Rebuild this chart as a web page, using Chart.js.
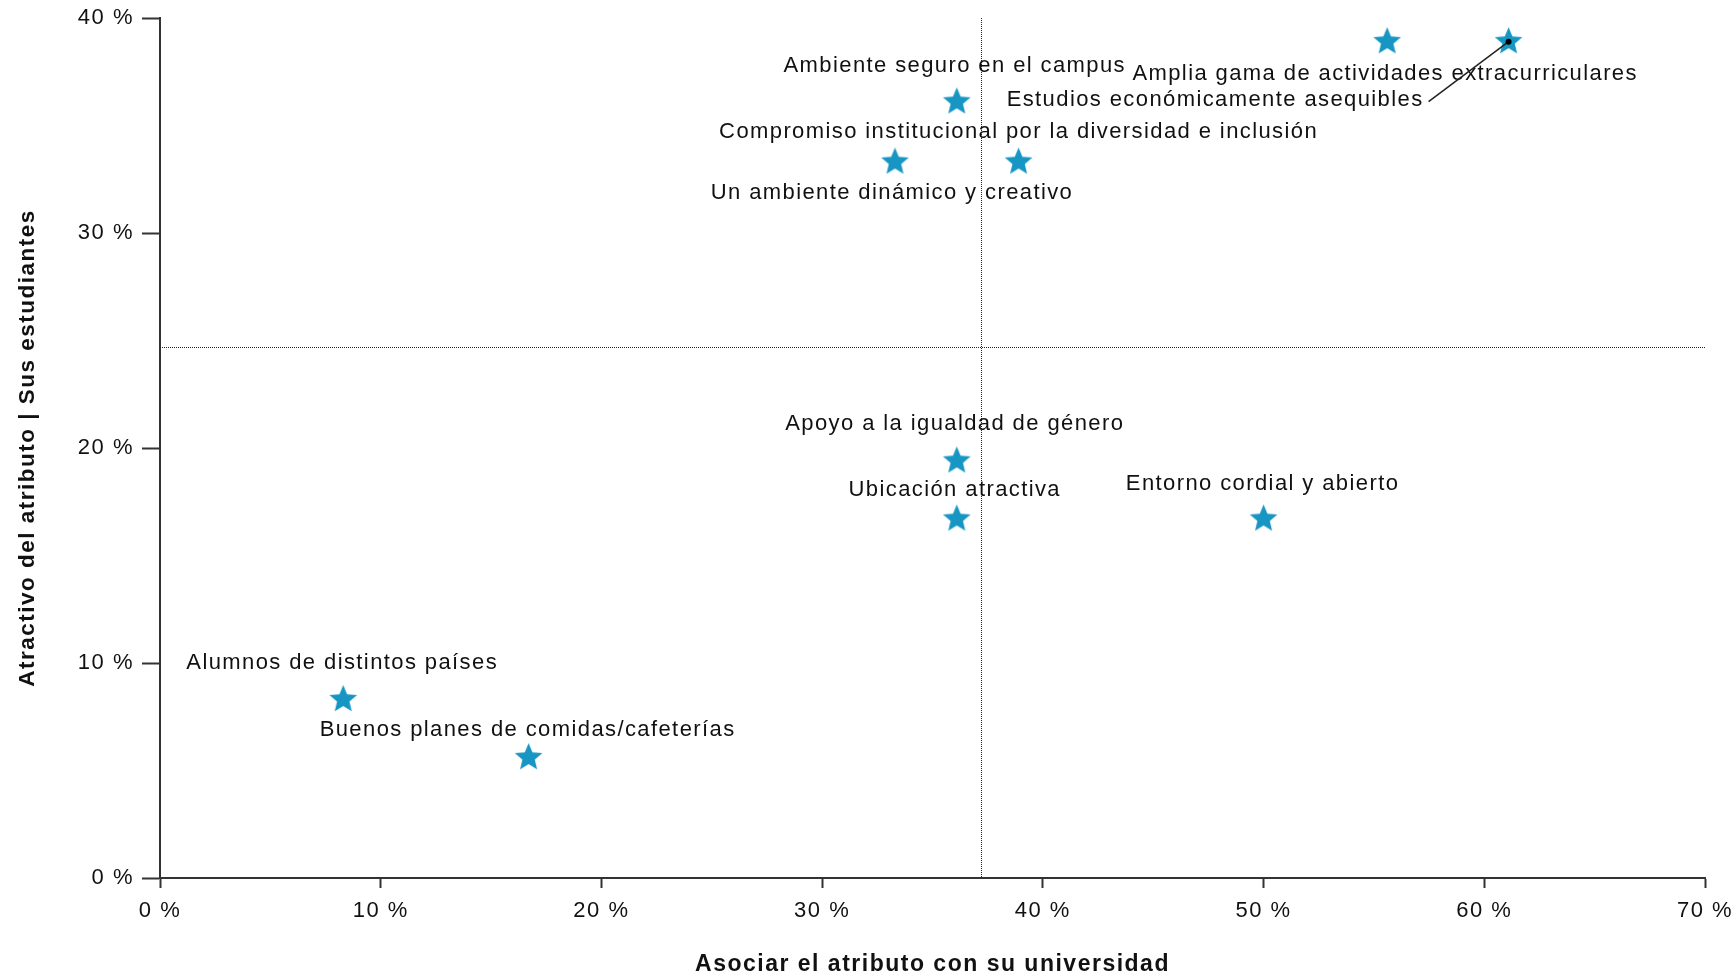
<!DOCTYPE html>
<html>
<head>
<meta charset="utf-8">
<script src="https://cdn.jsdelivr.net/npm/chart.js@4.4.1/dist/chart.umd.min.js"></script>
<style>
  html, body { margin: 0; padding: 0; background: #ffffff; }
  #wrap { width: 1736px; height: 977px; }
</style>
</head>
<body>
<div id="wrap"><canvas id="quadrantChart" width="1736" height="977"></canvas></div>
<script>
const attributes = [
  "Amplia gama de actividades extracurriculares",
  "Estudios económicamente asequibles",
  "Ambiente seguro en el campus",
  "Compromiso institucional por la diversidad e inclusión",
  "Un ambiente dinámico y creativo",
  "Apoyo a la igualdad de género",
  "Ubicación atractiva",
  "Entorno cordial y abierto",
  "Alumnos de distintos países",
  "Buenos planes de comidas/cafeterías"
];
// x: associate attribute with the university (%)
const association = [55.6, 61.1, 36.1, 38.9, 33.3, 36.1, 36.1, 50.0, 8.3, 16.7];
// y: attractiveness of the attribute (%)
const attractiveness = [38.9, 38.9, 36.1, 33.3, 33.3, 19.4, 16.7, 16.7, 8.3, 5.6];

const xTicks = [0, 10, 20, 30, 40, 50, 60, 70];
const yTicks = [0, 10, 20, 30, 40];

const xTitle = "Asociar el atributo con su universidad";
const yTitle = "Atractivo del atributo | Sus estudiantes";

// where each label sits relative to its star (pixels)
const labelPlacement = [
  { dx: -2, dy: 32, align: "center" },
  { dx: -85, dy: 58, align: "right", leader: true },
  { dx: -2, dy: -36, align: "center" },
  { dx: 0, dy: -30, align: "center" },
  { dx: -3, dy: 31, align: "center" },
  { dx: -2, dy: -37, align: "center" },
  { dx: -2, dy: -29, align: "center" },
  { dx: -1, dy: -35, align: "center" },
  { dx: -1, dy: -37, align: "center" },
  { dx: -1, dy: -28, align: "center" }
];

const FONT = "'Liberation Sans', Arial, sans-serif";
const TEXT_COLOR = "#111111";
const AXIS_COLOR = "#333333";
const STAR_COLOR = "#1796c4";

const mean = (arr) => arr.reduce((a, b) => a + b, 0) / arr.length;

// filled star used as point style
function makeStar(size, color) {
  const c = document.createElement("canvas");
  c.width = size;
  c.height = size;
  const g = c.getContext("2d");
  const cx = size / 2, cy = size / 2;
  const outer = size / 2 - 1, inner = outer * 0.45;
  g.beginPath();
  for (let i = 0; i < 10; i++) {
    const r = i % 2 === 0 ? outer : inner;
    const a = -Math.PI / 2 + (i * Math.PI) / 5;
    const px = cx + r * Math.cos(a), py = cy + r * Math.sin(a);
    if (i === 0) g.moveTo(px, py); else g.lineTo(px, py);
  }
  g.closePath();
  g.fillStyle = color;
  g.fill();
  return c;
}

const starImage = makeStar(31, STAR_COLOR);

const spacingPlugin = {
  id: "spacing",
  beforeDraw(chart) {
    chart.ctx.letterSpacing = "1.5px";
  }
};

const meanLinesPlugin = {
  id: "meanLines",
  beforeDatasetsDraw(chart) {
    const { ctx, chartArea, scales } = chart;
    const mx = scales.x.getPixelForValue(mean(association));
    const my = scales.y.getPixelForValue(mean(attractiveness));
    ctx.save();
    ctx.strokeStyle = "#222222";
    ctx.lineWidth = 1;
    ctx.setLineDash([1, 1]);
    ctx.beginPath();
    ctx.moveTo(Math.round(mx) + 0.5, chartArea.top);
    ctx.lineTo(Math.round(mx) + 0.5, chartArea.bottom);
    ctx.moveTo(chartArea.left, Math.round(my) + 0.5);
    ctx.lineTo(chartArea.right, Math.round(my) + 0.5);
    ctx.stroke();
    ctx.restore();
  }
};

const pointLabelsPlugin = {
  id: "pointLabels",
  afterDatasetsDraw(chart) {
    const { ctx } = chart;
    const meta = chart.getDatasetMeta(0);
    ctx.save();
    ctx.letterSpacing = "1.4px";
    ctx.font = "22px " + FONT;
    ctx.fillStyle = TEXT_COLOR;
    ctx.textBaseline = "middle";
    meta.data.forEach((pt, i) => {
      const p = labelPlacement[i];
      const x = pt.x + p.dx;
      const y = pt.y + p.dy;
      ctx.textAlign = p.align;
      ctx.fillText(attributes[i], x, y);
      if (p.leader) {
        ctx.strokeStyle = "#222222";
        ctx.lineWidth = 1.5;
        ctx.beginPath();
        ctx.moveTo(x + 5, y + 2);
        ctx.lineTo(pt.x, pt.y);
        ctx.stroke();
        ctx.fillStyle = "#000000";
        ctx.beginPath();
        ctx.arc(pt.x, pt.y, 3, 0, Math.PI * 2);
        ctx.fill();
        ctx.fillStyle = TEXT_COLOR;
      }
    });
    ctx.restore();
  }
};

const ctx = document.getElementById("quadrantChart").getContext("2d");

new Chart(ctx, {
  type: "scatter",
  data: {
    datasets: [
      {
        label: "Atributos",
        data: association.map((x, i) => ({ x: x, y: attractiveness[i] })),
        pointStyle: starImage,
        pointRadius: 14,
        pointHoverRadius: 14
      }
    ]
  },
  options: {
    responsive: false,
    animation: false,
    devicePixelRatio: 1,
    layout: {
      padding: { top: 18, right: 31, left: 0, bottom: 0 }
    },
    plugins: {
      legend: { display: false },
      tooltip: { enabled: false }
    },
    scales: {
      x: {
        type: "linear",
        min: xTicks[0],
        max: xTicks[xTicks.length - 1],
        afterBuildTicks: (scale) => {
          scale.ticks = xTicks.map((v) => ({ value: v }));
        },
        afterFit: (scale) => {
          scale.height = 99;
          scale.paddingLeft = 0;
          scale.paddingRight = 0;
        },
        border: { display: true, color: AXIS_COLOR, width: 2 },
        grid: {
          drawOnChartArea: false,
          drawTicks: true,
          tickLength: 10,
          tickColor: AXIS_COLOR,
          tickWidth: 2
        },
        ticks: {
          padding: 10,
          maxRotation: 0,
          color: TEXT_COLOR,
          font: { family: FONT, size: 22 },
          callback: (v) => v + " %"
        },
        title: {
          display: true,
          text: xTitle,
          color: TEXT_COLOR,
          font: { family: FONT, size: 23, weight: "bold", lineHeight: 1.1 },
          padding: { top: 0, bottom: 0 }
        }
      },
      y: {
        type: "linear",
        min: yTicks[0],
        max: yTicks[yTicks.length - 1],
        afterBuildTicks: (scale) => {
          scale.ticks = yTicks.map((v) => ({ value: v }));
        },
        afterFit: (scale) => {
          scale.width = 160;
          scale.paddingTop = 0;
          scale.paddingBottom = 0;
        },
        border: { display: true, color: AXIS_COLOR, width: 2 },
        grid: {
          drawOnChartArea: false,
          drawTicks: true,
          tickLength: 18,
          tickColor: AXIS_COLOR,
          tickWidth: 2
        },
        ticks: {
          padding: 8,
          color: TEXT_COLOR,
          font: { family: FONT, size: 22 },
          callback: (v) => v + " %"
        },
        title: {
          display: true,
          text: yTitle,
          color: TEXT_COLOR,
          font: { family: FONT, size: 22.5, weight: "bold" },
          padding: { top: 14, bottom: 0 }
        }
      }
    }
  },
  plugins: [spacingPlugin, meanLinesPlugin, pointLabelsPlugin]
});
</script>
</body>
</html>
